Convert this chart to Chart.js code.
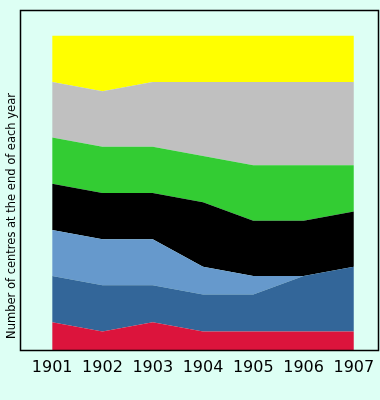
<!DOCTYPE html>
<html>
<head>
<meta charset="utf-8">
<script src="https://cdn.jsdelivr.net/npm/chart.js@4.4.1/dist/chart.umd.min.js"></script>
<style>
  html, body { margin: 0; padding: 0; background: #ddfff4; }
  #wrap { width: 380px; height: 400px; }
</style>
</head>
<body>
<div id="wrap"><canvas id="c" width="380" height="400"></canvas></div>
<script>
const years = [1901, 1902, 1903, 1904, 1905, 1906, 1907];
const seriesRed       = [3, 2, 3, 2, 2, 2, 2];
const seriesDarkBlue  = [5, 5, 4, 4, 4, 6, 7];
const seriesLightBlue = [5, 5, 5, 3, 2, 0, 0];
const seriesBlack     = [5, 5, 5, 7, 6, 6, 6];
const seriesGreen     = [5, 5, 5, 5, 6, 6, 5];
const seriesGray      = [6, 6, 7, 8, 9, 9, 9];
const seriesYellow    = [5, 6, 5, 5, 5, 5, 5];
const yTitle = 'Number of centres at the end of each year';

const seriesList = [
  { name: 'Red', values: seriesRed, color: '#dc143c' },
  { name: 'Dark blue', values: seriesDarkBlue, color: '#336699' },
  { name: 'Light blue', values: seriesLightBlue, color: '#6699cc' },
  { name: 'Black', values: seriesBlack, color: '#000000' },
  { name: 'Green', values: seriesGreen, color: '#33cc33' },
  { name: 'Gray', values: seriesGray, color: '#c0c0c0' },
  { name: 'Yellow', values: seriesYellow, color: '#ffff00' }
];

const datasets = seriesList.map((s, i) => ({
  label: s.name,
  data: years.map((yr, j) => ({ x: yr, y: s.values[j] })),
  backgroundColor: s.color,
  borderColor: s.color,
  borderWidth: 0,
  pointRadius: 0,
  tension: 0,
  fill: i === 0 ? 'origin' : '-1'
}));

const framePlugin = {
  id: 'frame',
  afterDraw(chart) {
    const { ctx, chartArea: a } = chart;
    ctx.save();
    ctx.strokeStyle = '#000';
    ctx.lineWidth = 1.5;
    ctx.strokeRect(a.left + 0.5, a.top + 0.5, a.right - a.left - 1, a.bottom - a.top);
    ctx.translate(12, 216);
    ctx.rotate(-Math.PI / 2);
    ctx.fillStyle = '#000';
    ctx.font = '11.5px "DejaVu Sans"';
    ctx.textAlign = 'center';
    ctx.textBaseline = 'middle';
    ctx.fillText(yTitle, 0, 0);
    ctx.restore();
  }
};

new Chart(document.getElementById('c'), {
  type: 'line',
  data: { datasets },
  options: {
    responsive: false,
    animation: false,
    layout: { padding: { left: 20, right: 1, top: 10, bottom: 14.8 } },
    plugins: { legend: { display: false }, tooltip: { enabled: false } },
    elements: { line: { borderWidth: 0 } },
    scales: {
      x: {
        type: 'linear',
        min: 1900.36,
        max: 1907.5,
        grid: { display: false, drawTicks: false },
        border: { display: false },
        afterBuildTicks(scale) { scale.ticks = years.map(v => ({ value: v })); },
        afterFit(scale) { scale.paddingLeft = 0; scale.paddingRight = 0; },
        ticks: {
          padding: 8,
          color: '#000',
          font: { family: '"DejaVu Sans"', size: 16 },
          maxRotation: 0,
          autoSkip: false,
          callback: v => String(v)
        }
      },
      y: {
        display: false,
        stacked: true,
        min: 0,
        max: 36.8
      }
    }
  },
  plugins: [framePlugin]
});
</script>
</body>
</html>
